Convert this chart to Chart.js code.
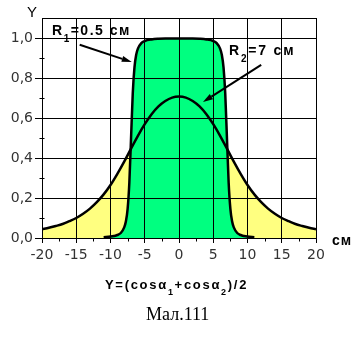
<!DOCTYPE html>
<html>
<head>
<meta charset="utf-8">
<script src="https://cdn.jsdelivr.net/npm/chart.js@4"></script>
<style>
    html, body { margin: 0; padding: 0; background: #fff; }
    #wrap { position: relative; width: 359px; height: 337px; overflow: hidden; }
    #chart { position: absolute; left: 0; top: 0; }
    .lbl { position: absolute; white-space: nowrap; color: #000; font-family: "Liberation Sans", Arial, sans-serif; }
    .sub { position: relative; font-size: 10px; }
</style>
</head>
<body>
<div id="wrap">
    <canvas id="chart" width="359" height="337"></canvas>
    <div class="lbl" style="left:27px; top:4px; font-size:15px; line-height:15px;">Y</div>
    <div class="lbl" style="left:52px; top:23px; font-size:14px; line-height:14px; font-weight:bold; letter-spacing:1.5px;">R<span class="sub" style="top:7px;">1</span>=0.5 см</div>
    <div class="lbl" style="left:229px; top:43px; font-size:14px; line-height:14px; font-weight:bold; letter-spacing:1.8px;">R<span class="sub" style="top:7px;">2</span>=7 см</div>
    <div class="lbl" style="left:332px; top:233px; font-size:14px; line-height:14px; font-weight:bold; letter-spacing:1px;">см</div>
    <div class="lbl" style="left:105px; top:278px; font-size:13px; line-height:13px; font-weight:bold; letter-spacing:1.7px;">Y=(cosα<span class="sub" style="top:6px; font-size:9px;">1</span>+cosα<span class="sub" style="top:6px; font-size:9px;">2</span>)/2</div>
    <div class="lbl" style="left:146px; top:305px; font-size:18px; line-height:18px; font-family:'Liberation Serif', 'Times New Roman', serif;">Мал.111</div>
</div>
<script>
// Coil with R2 = 7 cm, field on the axis, 1 cm step
const xWide = [-20, -19, -18, -17, -16, -15, -14, -13, -12, -11, -10, -9, -8, -7, -6, -5, -4, -3, -2, -1,
    0, 1, 2, 3, 4, 5, 6, 7, 8, 9, 10, 11, 12, 13, 14, 15, 16, 17, 18, 19, 20];
const yWide = [0.044, 0.051, 0.060, 0.070, 0.084, 0.100, 0.121, 0.147, 0.179, 0.218, 0.265, 0.321, 0.382, 0.447, 0.511, 0.569, 0.619, 0.658, 0.685, 0.702,
    0.707, 0.702, 0.685, 0.658, 0.619, 0.569, 0.511, 0.447, 0.382, 0.321, 0.265, 0.218, 0.179, 0.147, 0.121, 0.100, 0.084, 0.070, 0.060, 0.051, 0.044];

// Coil with R1 = 0.5 cm, denser sampling near the ends
const xNarrow = [-11, -10, -9.5, -9, -8.5, -8, -7.75, -7.5, -7.25, -7, -6.75, -6.5, -6.25, -6, -5.5, -5, -4, -3, -2, -1,
    0, 1, 2, 3, 4, 5, 5.5, 6, 6.25, 6.5, 6.75, 7, 7.25, 7.5, 7.75, 8, 8.5, 9, 9.5, 10, 11];
const yNarrow = [0.004, 0.007, 0.010, 0.015, 0.025, 0.053, 0.084, 0.146, 0.276, 0.500, 0.723, 0.853, 0.916, 0.947, 0.974, 0.985, 0.993, 0.996, 0.997, 0.997,
    0.998, 0.997, 0.997, 0.996, 0.993, 0.985, 0.974, 0.947, 0.916, 0.853, 0.723, 0.500, 0.276, 0.146, 0.084, 0.053, 0.025, 0.015, 0.010, 0.007, 0.004];

const yTicks = [0, 0.2, 0.4, 0.6, 0.8, 1.0, 1.1];
const yMinor = [0.1, 0.3, 0.5, 0.7, 0.9];
const xMinor = [-17.5, -12.5, -7.5, -2.5, 2.5, 7.5, 12.5, 17.5];

// pointers from the captions to the curves (data units)
const arrows = [
    { from: [-14.5, 0.966], to: [-6.9, 0.88] },
    { from: [12.0, 0.866], to: [3.5, 0.68] }
];

function toPoints(xs, ys) {
    return xs.map((x, i) => ({ x: x, y: ys[i] }));
}

const extras = {
    id: 'extras',
    afterDatasetsDraw(chart) {
        const ctx = chart.ctx;
        const xs = chart.scales.x, ys = chart.scales.y;
        ctx.save();
        ctx.strokeStyle = '#000';
        ctx.fillStyle = '#000';
        ctx.lineWidth = 1;

        // minor ticks
        const left = Math.round(xs.left) + 0.5;
        yMinor.forEach(v => {
            const py = Math.round(ys.getPixelForValue(v)) + 0.5;
            ctx.beginPath();
            ctx.moveTo(left - 3, py);
            ctx.lineTo(left + 2, py);
            ctx.stroke();
        });
        const bottom = Math.round(ys.bottom) + 0.5;
        xMinor.forEach(v => {
            const px = Math.round(xs.getPixelForValue(v)) + 0.5;
            ctx.beginPath();
            ctx.moveTo(px, bottom);
            ctx.lineTo(px, bottom + 3);
            ctx.stroke();
        });

        // arrows
        ctx.lineWidth = 2;
        arrows.forEach(a => {
            const x1 = xs.getPixelForValue(a.from[0]), y1 = ys.getPixelForValue(a.from[1]);
            const x2 = xs.getPixelForValue(a.to[0]), y2 = ys.getPixelForValue(a.to[1]);
            const ang = Math.atan2(y2 - y1, x2 - x1);
            const len = 10, half = 3;
            const bx = x2 - len * Math.cos(ang), by = y2 - len * Math.sin(ang);
            ctx.beginPath();
            ctx.moveTo(x1, y1);
            ctx.lineTo(bx, by);
            ctx.stroke();
            ctx.beginPath();
            ctx.moveTo(x2, y2);
            ctx.lineTo(bx + half * Math.sin(ang), by - half * Math.cos(ang));
            ctx.lineTo(bx - half * Math.sin(ang), by + half * Math.cos(ang));
            ctx.closePath();
            ctx.fill();
        });
        ctx.restore();
    }
};

const tickFont = { family: 'DejaVu Sans', size: 14 };

new Chart(document.getElementById('chart'), {
    type: 'line',
    data: {
        datasets: [
            {
                label: 'R1=0.5 см',
                data: toPoints(xNarrow, yNarrow),
                borderColor: '#000',
                borderWidth: 2.5,
                backgroundColor: '#00ff80',
                fill: 'origin',
                pointRadius: 0,
                cubicInterpolationMode: 'monotone'
            },
            {
                label: 'R2=7 см',
                data: toPoints(xWide, yWide),
                borderColor: '#000',
                borderWidth: 2.5,
                backgroundColor: '#ffff80',
                fill: 'origin',
                pointRadius: 0,
                cubicInterpolationMode: 'monotone'
            }
        ]
    },
    options: {
        responsive: false,
        animation: false,
        events: [],
        layout: { padding: { left: 0, top: 18, right: 43, bottom: 0 } },
        plugins: {
            legend: { display: false },
            tooltip: { enabled: false },
            filler: { drawTime: 'beforeDraw' }
        },
        scales: {
            x: {
                type: 'linear',
                min: -20,
                max: 20,
                afterFit(scale) { scale.height = 99; },
                border: { color: '#000', width: 1 },
                grid: { color: '#000', lineWidth: 1, tickLength: 5, tickColor: '#000' },
                ticks: { stepSize: 5, font: tickFont, color: '#333', padding: 4, maxRotation: 0, autoSkip: false }
            },
            y: {
                type: 'linear',
                min: 0,
                max: 1.1,
                afterFit(scale) { scale.width = 42; },
                afterBuildTicks(scale) { scale.ticks = yTicks.map(v => ({ value: v })); },
                border: { color: '#000', width: 1 },
                grid: {
                    color: '#000',
                    lineWidth: 1,
                    tickLength: 7,
                    tickColor: ctx => (ctx.tick && ctx.tick.value > 1.05 ? 'rgba(0,0,0,0)' : '#000')
                },
                ticks: {
                    font: tickFont,
                    color: '#333',
                    padding: 2,
                    callback: v => (v > 1.05 ? '' : v.toFixed(1).replace('.', ','))
                }
            }
        }
    },
    plugins: [extras]
});
</script>
</body>
</html>
